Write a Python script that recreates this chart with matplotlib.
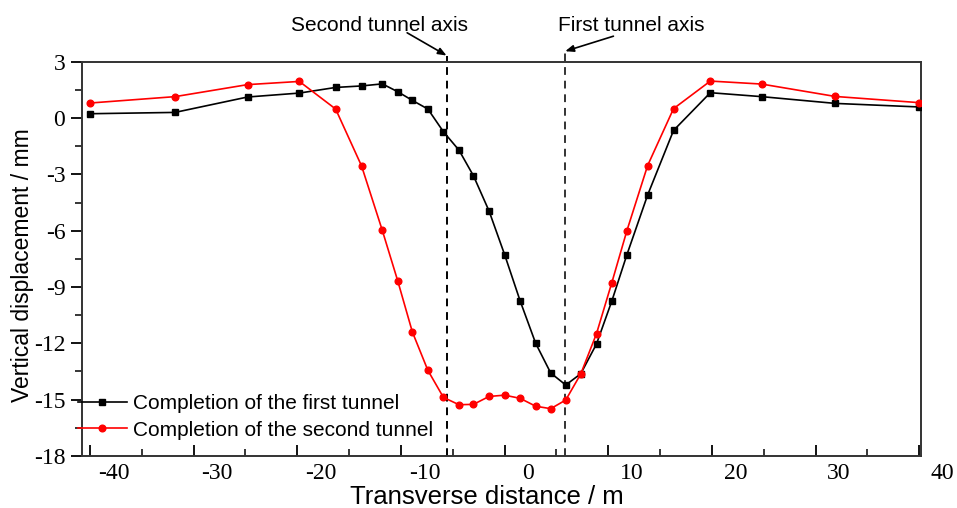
#!/usr/bin/env python3
# -*- coding: utf-8 -*-

import matplotlib.pyplot as plt
import matplotlib.transforms as mtransforms
from matplotlib.ticker import MultipleLocator

plt.switch_backend("Agg")
plt.rcParams["axes.unicode_minus"] = False

# transverse positions (m)
distance = [-40, -31.8, -24.8, -19.8, -16.3, -13.8, -11.8, -10.3, -8.9, -7.4,
            -5.9, -4.4, -3.0, -1.5, 0, 1.5, 3.0, 4.45, 5.9, 7.35,
            8.87, 10.35, 11.8, 13.8, 16.3, 19.85, 24.8, 31.9, 40]

# vertical displacement (mm)
first_tunnel = [0.23, 0.30, 1.12, 1.33, 1.63, 1.71, 1.82, 1.40, 0.94, 0.48,
                -0.73, -1.71, -3.08, -4.95, -7.27, -9.74, -12.0, -13.58, -14.22, -13.62,
                -12.03, -9.74, -7.28, -4.1, -0.66, 1.35, 1.14, 0.78, 0.59]
second_tunnel = [0.80, 1.14, 1.78, 1.95, 0.48, -2.55, -5.98, -8.69, -11.39, -13.44,
                 -14.88, -15.27, -15.25, -14.83, -14.76, -14.93, -15.35, -15.48, -15.02, -13.63,
                 -11.48, -8.76, -6.0, -2.53, 0.50, 1.97, 1.81, 1.15, 0.82]

labels = ["Completion of the first tunnel", "Completion of the second tunnel"]

second_axis_x = -5.6
first_axis_x = 5.85

SANS = ["Liberation Sans", "DejaVu Sans"]
SERIF = ["Liberation Serif", "DejaVu Serif"]


def main():
    fig = plt.figure(figsize=(9.57, 5.08), dpi=100)
    ax = fig.add_axes([0.0857, 0.1024, 0.8763, 0.7761])

    ax.plot(distance, first_tunnel, color="black", lw=1.2, marker="s", ms=4.5,
            label=labels[0], zorder=3)
    ax.plot(distance, second_tunnel, color="red", lw=1.2, marker="o", ms=4.8,
            label=labels[1], zorder=3)

    # tunnel axes
    ax.plot([second_axis_x, second_axis_x], [-18, 3.33], color="black", lw=1.4,
            ls=(0, (4, 3)), clip_on=False, zorder=2)
    ax.plot([first_axis_x, first_axis_x], [-18, 3.56], color="#333333", lw=1.4,
            ls=(0, (4, 3)), clip_on=False, zorder=2)

    arrow = dict(arrowstyle="-|>,head_length=0.5,head_width=0.2", color="black", lw=1.2,
                 shrinkA=0, shrinkB=0)
    ax.annotate("", xy=(second_axis_x, 3.33), xytext=(-9.4, 4.54),
                arrowprops=arrow, annotation_clip=False)
    ax.annotate("", xy=(first_axis_x, 3.56), xytext=(10.5, 4.36),
                arrowprops=arrow, annotation_clip=False)
    ax.text(-12.1, 4.95, "Second tunnel axis", ha="center", va="center",
            fontsize=15, family=SANS, clip_on=False)
    ax.text(12.2, 4.95, "First tunnel axis", ha="center", va="center",
            fontsize=15, family=SANS, clip_on=False)

    ax.set_xlim(-40.77, 40.14)
    ax.set_ylim(-18, 3)
    ax.xaxis.set_major_locator(MultipleLocator(10))
    ax.xaxis.set_minor_locator(MultipleLocator(5))
    ax.yaxis.set_major_locator(MultipleLocator(3))
    ax.yaxis.set_minor_locator(MultipleLocator(1.5))

    ax.tick_params(axis="x", which="both", direction="in", top=False, pad=5)
    ax.tick_params(axis="y", which="both", direction="out", right=False, pad=4)
    ax.tick_params(which="major", length=8, width=1.3)
    ax.tick_params(which="minor", length=5, width=1.1)
    for lab in ax.get_xticklabels() + ax.get_yticklabels():
        lab.set_family(SERIF)
        lab.set_fontsize(17)

    # x tick labels sit shifted to the right of their ticks in the original
    shift = mtransforms.ScaledTranslation(0.235, 0, fig.dpi_scale_trans)
    for lab in ax.get_xticklabels():
        lab.set_transform(lab.get_transform() + shift)

    for sp in ax.spines.values():
        sp.set_linewidth(1.4)
        sp.set_color("#333333")

    ax.set_xlabel("Transverse distance / m", fontsize=18.5, family=SANS)
    ax.set_ylabel("Vertical displacement / mm", fontsize=16.5, family=SANS)
    ax.xaxis.set_label_coords(0.483, -0.073)
    ax.yaxis.set_label_coords(-0.057, 0.484)

    ax.legend(loc="center left", bbox_to_anchor=(-0.005, 0.099), frameon=False,
              prop={"family": SANS, "size": 15}, handlelength=2.35,
              handletextpad=0.3, borderpad=0, borderaxespad=0, labelspacing=0.35)

    fig.savefig("out.png", dpi=100)
    plt.close(fig)


if __name__ == "__main__":
    main()
